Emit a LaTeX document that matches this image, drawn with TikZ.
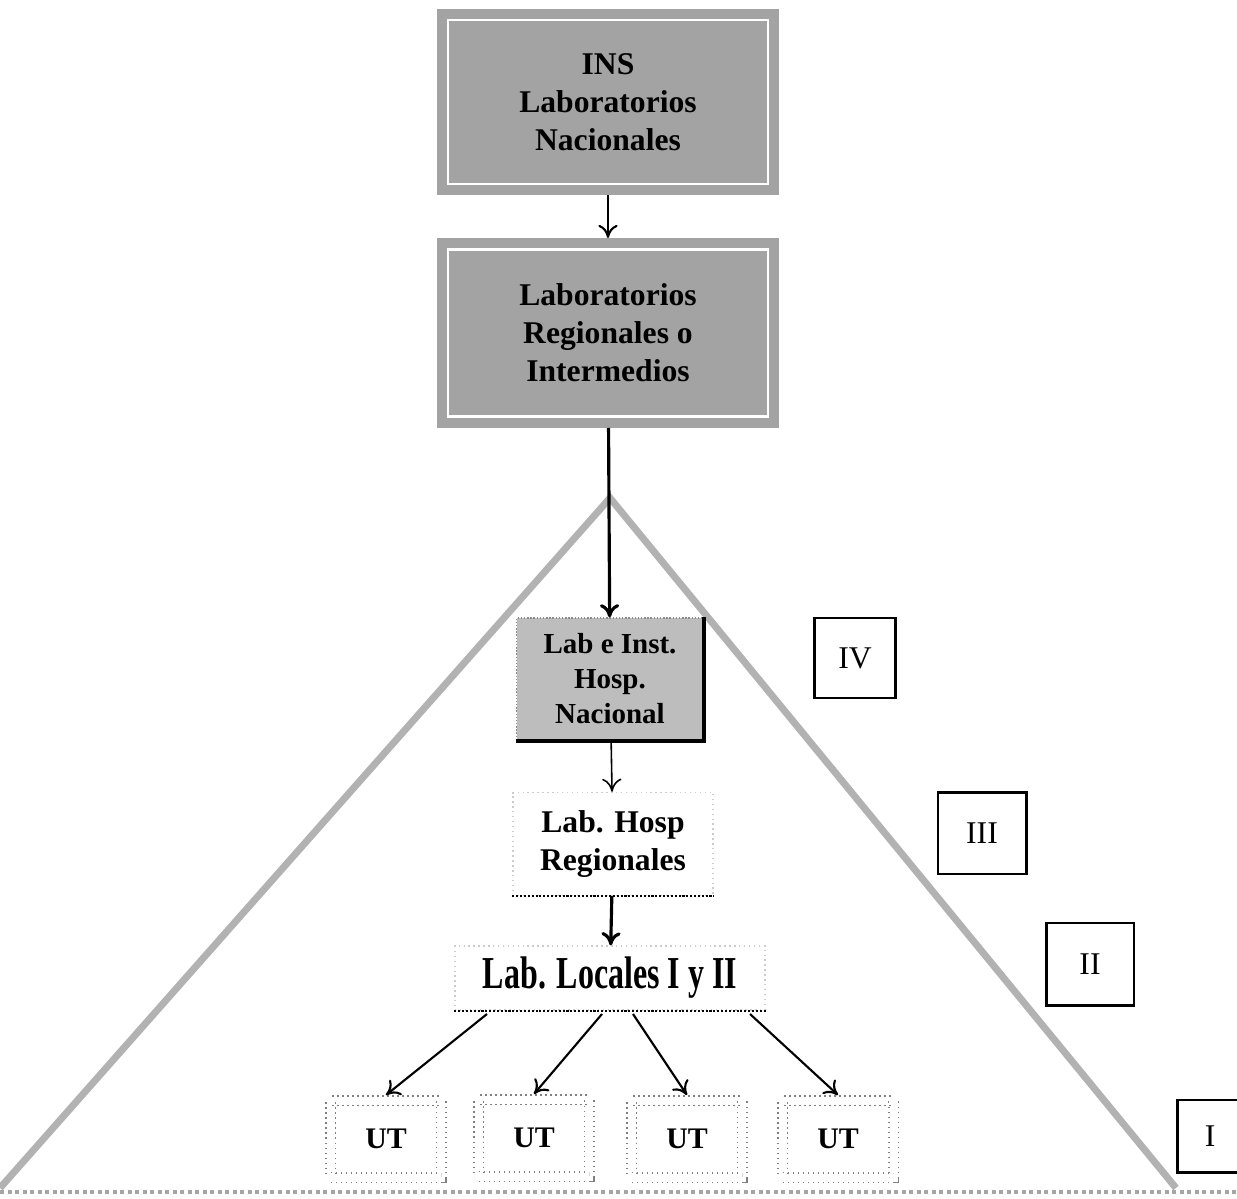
\documentclass[tikz,border=0pt]{standalone}
\usepackage{fontspec}
\usetikzlibrary{arrows.meta}
\setmainfont{Liberation Serif}
\newfontfamily\narrowserif{Liberation Serif}[FakeStretch=0.7]
\tikzset{
  >={To[length=7.5pt, width=11pt]},
  shadedlab/.style={draw=black!36, fill=black!36, line width=0.2cm, double=white,
    double distance=0.05cm, outer sep=0.225cm, align=center,
    font={\fontsize{18}{21.6}\selectfont\bfseries}},
  lightlab/.style={fill=black!26, draw=black!45, densely dotted, line width=0.8pt,
    align=center, font={\fontsize{16.5}{19.9}\selectfont\bfseries}},
  whitelab/.style={draw=black!20, dotted, line width=0.8pt, align=center},
  utbox/.style={draw=black!50, dotted, line width=0.03cm, double=white,
    double distance=0.16cm, outer sep=0.11cm, minimum width=2.22cm,
    minimum height=1.54cm, font={\fontsize{17}{19}\selectfont\bfseries}},
  levelbox/.style={draw, line width=0.05cm, font={\fontsize{18}{20}\selectfont}},
  pyramid/.style={draw=black!30, line width=0.14cm},
}
\begin{document}
\begin{tikzpicture}[x=0.02cm, y=-0.02cm]
      \useasboundingbox (0,0) rectangle (1237,1198);
      % pyramid behind the chain
      \draw[pyramid] (0,1188) -- (610,498) -- (1176,1188);
      \draw[black!35, dotted, line width=0.08cm] (0,1192) -- (1237,1192);
      \draw
        (608,102) node[shadedlab, minimum width=6.4cm, minimum height=3.28cm] (ins){INS\\Laboratorios\\Nacionales}
        (608,333) node[shadedlab, minimum width=6.4cm, minimum height=3.35cm] (reg){Laboratorios\\Regionales o\\Intermedios}
        (610,679) node[lightlab, minimum width=3.74cm, minimum height=2.44cm] (nac){Lab e Inst.\\Hosp.\\Nacional}
        (613,844) node[whitelab, minimum width=4cm, minimum height=2.06cm,
          font={\fontsize{18}{21.5}\selectfont\bfseries}] (hosp){Lab. Hosp\\Regionales}
        (610,978) node[whitelab, minimum width=6.2cm, minimum height=1.28cm,
          font={\fontsize{26}{30}\narrowserif\bfseries}] (loc){Lab. Locales I y II}
        (386,1139) node[utbox] (ut1){UT}
        (534,1138) node[utbox] (ut2){UT}
        (687,1139) node[utbox] (ut3){UT}
        (838,1139) node[utbox] (ut4){UT}
        (855,658) node[levelbox, minimum width=1.62cm, minimum height=1.6cm] (iv){IV}
        (982,833) node[levelbox, minimum width=1.77cm, minimum height=1.63cm] (iii){III}
        (1090,964) node[levelbox, minimum width=1.75cm, minimum height=1.65cm] (ii){II}
        (1210,1136) node[levelbox, minimum width=1.3cm, minimum height=1.45cm] (i){I};
      % solid edges of the lower boxes
      \draw[line width=2.5pt] (nac.north east) -- (nac.south east) -- (nac.south west);
      \draw[densely dotted, line width=1.2pt] (hosp.south west) -- (hosp.south east);
      \draw[densely dotted, line width=1.2pt] (loc.south west) -- (loc.south east);
      \coordinate (l1) at (487,1014);
      \coordinate (l2) at (602,1014);
      \coordinate (l3) at (633,1014);
      \coordinate (l4) at (750,1014);
      \begin{scope}[->]
        \draw[line width=1.2pt] (ins) to (reg);
        \draw[line width=1.8pt] (reg) to (nac);
        \draw[line width=0.9pt] (nac) to (hosp);
        \draw[line width=1.8pt] (hosp) to (loc);
        \draw[line width=1.2pt] (l1) to (ut1.north);
        \draw[line width=1.2pt] (l2) to (ut2.north);
        \draw[line width=1.2pt] (l3) to (ut3.north);
        \draw[line width=1.2pt] (l4) to (ut4.north);
      \end{scope}
    \end{tikzpicture}
\end{document}
